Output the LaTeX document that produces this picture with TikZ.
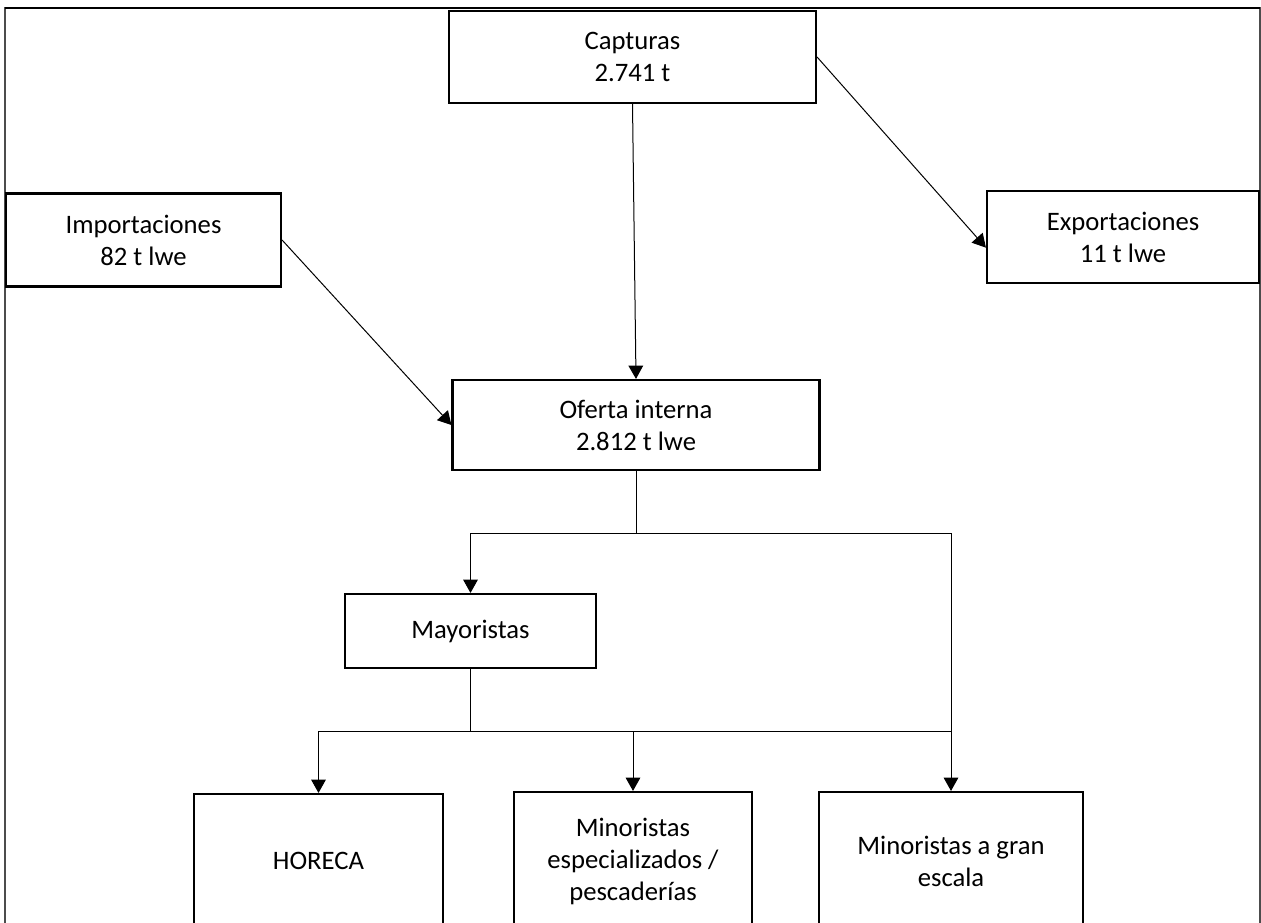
\documentclass[tikz,border=0pt]{standalone}
\usepackage{fontspec}
\setmainfont{Carlito}
\usetikzlibrary{arrows.meta}

\begin{document}
\begin{tikzpicture}[x=0.75pt, y=-0.75pt]
\tikzstyle{box} = [rectangle, draw=black, line width=1.6pt, align=center, inner sep=0pt, font=\fontsize{20}{24}\selectfont]
\tikzstyle{edge} = [-{Triangle[length=10pt, width=11pt]}, line width=0.75pt]
\tikzstyle{link} = [line width=0.75pt]
\useasboundingbox (0,0) rectangle (1261,922);
\clip (0,0) rectangle (1261,922);
\draw[line width=0.8pt, black!70] (5,940) -- (5,8) -- (1260,8) -- (1260,940);
\draw[line width=1.5pt] (5,8) -- (1260,8);
\node[box, minimum width=367pt*0.75, minimum height=92pt*0.75] (cap) at (632.5, 57) {Capturas\\2.741 t};
\node[box, minimum width=275pt*0.75, minimum height=93pt*0.75] (imp) at (143.5, 240) {Importaciones\\82 t lwe};
\node[box, minimum width=272pt*0.75, minimum height=92pt*0.75] (exp) at (1123, 237) {Exportaciones\\11 t lwe};
\node[box, minimum width=367pt*0.75, minimum height=90pt*0.75] (ofe) at (636, 425) {Oferta interna\\2.812 t lwe};
\node[box, minimum width=251pt*0.75, minimum height=74pt*0.75] (may) at (470.5, 631) {Mayoristas};
\node[box, minimum width=249pt*0.75, minimum height=134pt*0.75] (hor) at (318.5, 861) {HORECA};
\node[box, minimum width=238pt*0.75, minimum height=138pt*0.75] (mesp) at (633, 861) {Minoristas\\especializados /\\pescaderías};
\node[box, minimum width=264pt*0.75, minimum height=138pt*0.75] (mgran) at (951, 861) {Minoristas a gran\\escala};
\coordinate (j1) at (636, 533);
\coordinate (j2) at (470.5, 731);
\draw[edge] (cap.south) -- (ofe.north);
\draw[edge] (cap.east) -- ([yshift=-8pt]exp.west);
\draw[edge] (imp.east) -- (ofe.west);
\draw[link] (ofe.south) -- (j1);
\draw[edge] (j1) -| (may.north);
\draw[edge] (j1) -| (mgran.north);
\draw[link] (may.south) -- (j2);
\draw[edge] (j2) -| (hor.north);
\draw[edge] (j2) -| (mesp.north);
\draw[link] (j2) -- (j2 -| mgran.north);
\end{tikzpicture}
\end{document}
